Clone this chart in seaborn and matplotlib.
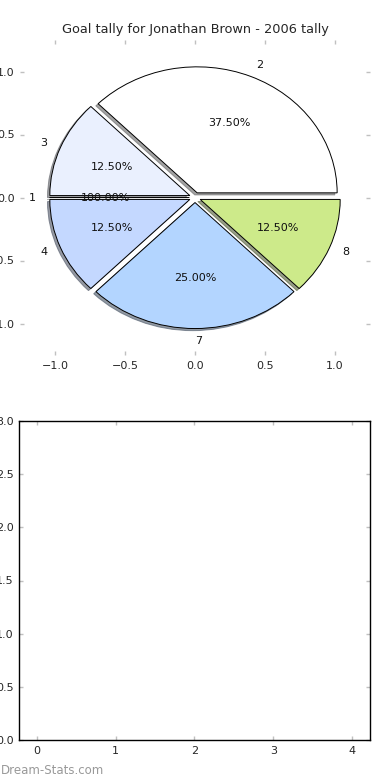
import numpy as np
import seaborn as sns
import matplotlib
matplotlib.use('Agg')
import matplotlib.pyplot as plt

# goal tally per round (round label -> goals)
rondas = ['2', '3', '1', '4', '7', '8']
goles = [3, 1, 0, 1, 2, 1]
textos_pct = ['37.50%', '12.50%', '100.00%', '12.50%', '25.00%', '12.50%']
colores = ['#ffffff', '#eaf0fe', '#ffffff', '#c4d8ff', '#b3d5ff', '#cdea8a']
ticks_pie = [-1.0, -0.5, 0.0, 0.5, 1.0]
ticks_x_abajo = [0, 1, 2, 3, 4]
ticks_y_abajo = [0.0, 0.5, 1.0, 1.5, 2.0, 2.5, 3.0]

sns.set_style("white")
plt.rcParams['font.family'] = ['DejaVu Sans']

fig = plt.figure(figsize=(3.9, 7.8), dpi=100)
ax1 = fig.add_axes([20/390, 1 - 355/780, 350/390, 315/780])
ax2 = fig.add_axes([19/390, 1 - 740/780, 351/390, 319/780])

paleta = sns.color_palette(colores)
it_pct = iter(textos_pct)
ax1.pie(goles, labels=rondas, colors=paleta, explode=[0.04] * len(goles),
        autopct=lambda p: next(it_pct),
        shadow=dict(ox=-0.012, oy=-0.012, shade=0.6, alpha=0.6), startangle=0,
        wedgeprops=dict(edgecolor='black', linewidth=0.7),
        textprops=dict(fontsize=8, color='#111111'))
ax1.set_aspect('auto')
ax1.set_frame_on(False)
ax1.set_xlim(-1.25, 1.25)
ax1.set_ylim(-1.25, 1.25)
ax1.set_xticks(ticks_pie)
ax1.set_yticks(ticks_pie)
ax1.set_title('Goal tally for Jonathan Brown - 2006 tally', fontsize=9.3, pad=5)

ax2.set_xlim(-0.23, 4.23)
ax2.set_ylim(0, 3)
ax2.set_xticks(ticks_x_abajo)
ax2.set_yticks(ticks_y_abajo)
for s in ax2.spines.values():
    s.set_color('black')
    s.set_linewidth(1.0)

for ax in (ax1, ax2):
    ax.tick_params(direction='in', top=True, right=True, bottom=True, left=True,
                   color='#c0c0c0', length=3, width=1, labelsize=8, pad=4)

fig.text(0.002, 0.008, 'Dream-Stats.com', color='#999999', fontsize=8.5)

fig.savefig('out.png', dpi=100)
